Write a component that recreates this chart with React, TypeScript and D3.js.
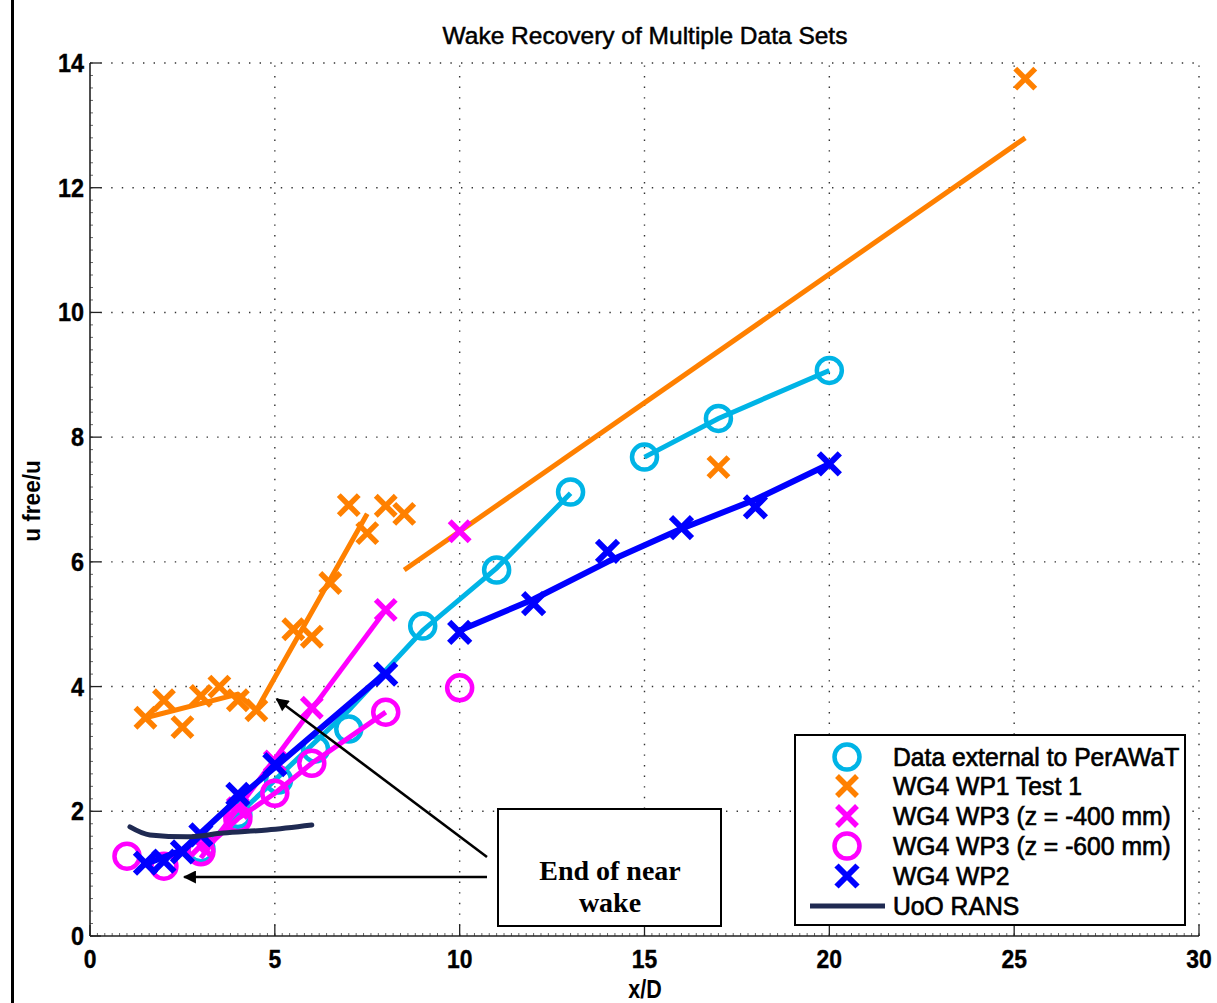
import React from "react";
import * as d3 from "d3";

const W = 1217;
const H = 1003;

// Axis ticks
const xTicks = [0, 5, 10, 15, 20, 25, 30];
const yTicks = [0, 2, 4, 6, 8, 10, 12, 14];

// Data external to PerAWaT (circles)
const extX = [3, 4, 5.1, 6.1, 7, 9, 11, 13, 15, 17, 20];
const extY = [1.4, 1.95, 2.5, 3.0, 3.32, 4.97, 5.87, 7.12, 7.68, 8.3, 9.07];
const extTrendAX = [3, 5, 7, 9, 11, 13];
const extTrendAY = [1.38, 2.5, 3.62, 4.9, 5.9, 7.1];
const extTrendBX = [15, 17, 20];
const extTrendBY = [7.68, 8.3, 9.07];

// WG4 WP1 Test 1 (crosses)
const wp1X = [1.5, 2, 2.5, 3, 3.5, 4, 4.5, 5.5, 6, 6.5, 7, 7.5, 8, 8.5, 17, 25.3];
const wp1Y = [3.5, 3.78, 3.35, 3.85, 4.0, 3.78, 3.62, 4.92, 4.8, 5.66, 6.91, 6.46, 6.9, 6.77, 7.52, 13.75];
const wp1TrendAX = [1.5, 4.0, 4.5, 7.5];
const wp1TrendAY = [3.5, 3.88, 3.62, 6.77];
const wp1TrendBX = [8.5, 25.3];
const wp1TrendBY = [5.87, 12.8];

// WG4 WP3 (z = -400 mm) (crosses)
const wp3aX = [3, 4, 5, 6, 8, 10];
const wp3aY = [1.45, 2.05, 2.8, 3.66, 5.23, 6.49];
const wp3aTrendX = [3, 8];
const wp3aTrendY = [1.25, 5.23];

// WG4 WP3 (z = -600 mm) (circles)
const wp3bX = [1, 2, 3, 4, 5, 6, 8, 10];
const wp3bY = [1.28, 1.12, 1.35, 1.88, 2.29, 2.77, 3.59, 3.98];
const wp3bTrendX = [3, 4, 5, 6, 8];
const wp3bTrendY = [1.35, 1.88, 2.29, 2.77, 3.59];

// WG4 WP2 (crosses)
const wp2X = [1.5, 2, 2.5, 3, 4, 5, 8, 10, 12, 14, 16, 18, 20];
const wp2Y = [1.17, 1.2, 1.35, 1.62, 2.27, 2.75, 4.2, 4.87, 5.33, 6.17, 6.55, 6.88, 7.57];
const wp2TrendAX = [1.4, 2.5, 4, 8];
const wp2TrendAY = [1.13, 1.38, 2.2, 4.22];
const wp2TrendBX = [10, 12, 14, 16, 18, 20];
const wp2TrendBY = [4.9, 5.4, 6.0, 6.53, 7.0, 7.57];

// UoO RANS (line)
const ransX = [1.08, 1.62, 2.63, 3.6, 4.79, 6.0];
const ransY = [1.75, 1.62, 1.59, 1.65, 1.7, 1.78];

const legendLabels = [
  "Data external to PerAWaT",
  "WG4 WP1 Test 1",
  "WG4 WP3 (z = -400 mm)",
  "WG4 WP3 (z = -600 mm)",
  "WG4 WP2",
  "UoO RANS",
];

const C_EXT = "#00b4e6";
const C_WP1 = "#ff8000";
const C_MAG = "#ff00ff";
const C_BLUE = "#0000ff";
const C_RANS = "#1f2a52";

const x = d3.scaleLinear().domain([0, 30]).range([90, 1199]);
const y = d3.scaleLinear().domain([0, 14]).range([936, 63]);

const zip = (xs: number[], ys: number[]) => xs.map((v, i) => [v, ys[i]] as [number, number]);
const line = d3
  .line<[number, number]>()
  .x((d) => x(d[0]))
  .y((d) => y(d[1]));
const smooth = d3
  .line<[number, number]>()
  .x((d) => x(d[0]))
  .y((d) => y(d[1]))
  .curve(d3.curveMonotoneX);

function Cross({ cx, cy, color, r = 10, sw = 5.5 }: any) {
  return (
    <path
      d={`M${cx - r},${cy - r}L${cx + r},${cy + r}M${cx - r},${cy + r}L${cx + r},${cy - r}`}
      stroke={color}
      strokeWidth={sw}
      fill="none"
    />
  );
}

function Ring({ cx, cy, color }: any) {
  return <circle cx={cx} cy={cy} r={12.5} stroke={color} strokeWidth={4.5} fill="none" />;
}

function SText({ x: tx, y: ty, sx = 1, anchor = "middle", size, weight = "normal", family = "Liberation Sans, Arial, sans-serif", rotate = 0, heavy = 0, children }: any) {
  return (
    <text
      transform={`translate(${tx},${ty}) rotate(${rotate}) scale(${sx},1)`}
      textAnchor={anchor}
      fontSize={size}
      fontWeight={weight}
      fontFamily={family}
      fill="#000"
      stroke={heavy ? "#000" : "none"}
      strokeWidth={heavy}
    >
      {children}
    </text>
  );
}

export default function App() {
  const minorX = d3.range(0, 30.001, 0.2);
  const minorY = d3.range(0, 14.001, 0.2);
  const gridStyle = { stroke: "#333", strokeWidth: 1.4, strokeDasharray: "1.4 9.2" };

  const legendRowY = [757, 786, 816, 846, 876, 906];
  const mx = 847;

  return (
    <svg
      width={W}
      height={H}
      viewBox={`0 0 ${W} ${H}`}
      style={{ position: "absolute", left: 0, top: 0, background: "#fff" }}
    >
      <rect x={0} y={0} width={W} height={H} fill="#fff" />
      {/* page rule */}
      <rect x={11} y={0} width={3} height={H} fill="#000" />

      {/* grid */}
      {xTicks.slice(1).map((t) => (
        <line key={"gx" + t} x1={x(t)} x2={x(t)} y1={y(0)} y2={y(14)} {...gridStyle} />
      ))}
      {yTicks.slice(1).map((t) => (
        <line key={"gy" + t} x1={x(0)} x2={x(30)} y1={y(t)} y2={y(t)} {...gridStyle} />
      ))}

      {/* minor ticks */}
      {minorX.map((t, i) => (
        <line key={"mx" + i} x1={x(t)} x2={x(t)} y1={y(0)} y2={y(0) - 3} stroke="#666" strokeWidth={1} />
      ))}
      {minorY.map((t, i) => (
        <line key={"my" + i} x1={x(0)} x2={x(0) + 3} y1={y(t)} y2={y(t)} stroke="#666" strokeWidth={1} />
      ))}

      {/* axes */}
      <line x1={x(0)} x2={x(0)} y1={y(0)} y2={y(14)} stroke="#222" strokeWidth={1.6} />
      <line x1={x(0)} x2={x(30)} y1={y(0)} y2={y(0)} stroke="#222" strokeWidth={1.6} />
      {xTicks.map((t) => (
        <line key={"tx" + t} x1={x(t)} x2={x(t)} y1={y(0)} y2={y(0) - 11} stroke="#222" strokeWidth={1.3} />
      ))}
      {yTicks.map((t) => (
        <line key={"ty" + t} x1={x(0)} x2={x(0) + 11} y1={y(t)} y2={y(t)} stroke="#222" strokeWidth={1.3} />
      ))}
      {xTicks.map((t) => (
        <SText key={"lx" + t} x={x(t)} y={968} size={26} weight="bold" sx={0.88} heavy={0.4}>
          {t}
        </SText>
      ))}
      {yTicks.map((t) => (
        <SText key={"ly" + t} x={84} y={y(t) + 9} size={26} weight="bold" sx={0.9} anchor="end" heavy={0.4}>
          {t}
        </SText>
      ))}

      {/* titles */}
      <SText x={645} y={44} size={24.5} heavy={0.5}>
        Wake Recovery of Multiple Data Sets
      </SText>
      <SText x={645} y={998} size={25} weight="bold" sx={0.86}>
        x/D
      </SText>
      <SText x={40} y={501} size={24} weight="bold" sx={0.94} rotate={-90}>
        u free/u
      </SText>

      {/* Data external to PerAWaT */}
      <path d={line(zip(extTrendAX, extTrendAY)) || ""} stroke={C_EXT} strokeWidth={5} fill="none" />
      <path d={line(zip(extTrendBX, extTrendBY)) || ""} stroke={C_EXT} strokeWidth={5} fill="none" />
      {extX.map((v, i) => (
        <Ring key={"e" + i} cx={x(v)} cy={y(extY[i])} color={C_EXT} />
      ))}

      {/* WG4 WP1 Test 1 */}
      <path d={line(zip(wp1TrendAX, wp1TrendAY)) || ""} stroke={C_WP1} strokeWidth={5} fill="none" strokeLinejoin="round" />
      <path d={line(zip(wp1TrendBX, wp1TrendBY)) || ""} stroke={C_WP1} strokeWidth={5} fill="none" />
      {wp1X.map((v, i) => (
        <Cross key={"o" + i} cx={x(v)} cy={y(wp1Y[i])} color={C_WP1} />
      ))}

      {/* WG4 WP3 z=-400 */}
      <path d={line(zip(wp3aTrendX, wp3aTrendY)) || ""} stroke={C_MAG} strokeWidth={5} fill="none" />
      {wp3aX.map((v, i) => (
        <Cross key={"m" + i} cx={x(v)} cy={y(wp3aY[i])} color={C_MAG} />
      ))}

      {/* WG4 WP3 z=-600 */}
      <path d={line(zip(wp3bTrendX, wp3bTrendY)) || ""} stroke={C_MAG} strokeWidth={5} fill="none" />
      {wp3bX.map((v, i) => (
        <Ring key={"mc" + i} cx={x(v)} cy={y(wp3bY[i])} color={C_MAG} />
      ))}

      {/* WG4 WP2 */}
      <path d={line(zip(wp2TrendAX, wp2TrendAY)) || ""} stroke={C_BLUE} strokeWidth={6} fill="none" strokeLinejoin="round" />
      <path d={line(zip(wp2TrendBX, wp2TrendBY)) || ""} stroke={C_BLUE} strokeWidth={6} fill="none" strokeLinejoin="round" />
      {wp2X.map((v, i) => (
        <Cross key={"b" + i} cx={x(v)} cy={y(wp2Y[i])} color={C_BLUE} r={10.5} sw={6} />
      ))}

      {/* UoO RANS */}
      <path d={smooth(zip(ransX, ransY)) || ""} stroke={C_RANS} strokeWidth={5} fill="none" strokeLinecap="round" />

      {/* annotation */}
      <defs>
        <marker id="ah" viewBox="0 0 10 10" refX="9" refY="5" markerWidth="6" markerHeight="5" orient="auto" markerUnits="strokeWidth">
          <path d="M0,0L10,5L0,10z" fill="#000" />
        </marker>
      </defs>
      <line x1={487} y1={857} x2={x(5.05)} y2={y(3.8)} stroke="#000" strokeWidth={2.6} markerEnd="url(#ah)" />
      <line x1={487} y1={877} x2={x(2.55)} y2={877} stroke="#000" strokeWidth={2.6} markerEnd="url(#ah)" />
      <rect x={498} y={809} width={223} height={117} fill="#fff" stroke="#000" strokeWidth={2} />
      <SText x={610} y={880} size={28} weight="bold" family="Liberation Serif, Times New Roman, serif">
        End of near
      </SText>
      <SText x={610} y={912} size={28} weight="bold" family="Liberation Serif, Times New Roman, serif">
        wake
      </SText>

      {/* legend */}
      <rect x={795} y={735} width={390} height={190} fill="#fff" stroke="#000" strokeWidth={2} />
      <Ring cx={mx} cy={legendRowY[0]} color={C_EXT} />
      <Cross cx={mx} cy={legendRowY[1]} color={C_WP1} />
      <Cross cx={mx} cy={legendRowY[2]} color={C_MAG} />
      <Ring cx={mx} cy={legendRowY[3]} color={C_MAG} />
      <Cross cx={mx} cy={legendRowY[4]} color={C_BLUE} r={10.5} sw={6} />
      <line x1={810} x2={885} y1={legendRowY[5]} y2={legendRowY[5]} stroke={C_RANS} strokeWidth={5} />
      {legendLabels.map((t, i) => (
        <SText key={"lg" + i} x={893} y={legendRowY[i] + 9} size={26} sx={0.95} anchor="start" heavy={0.7}>
          {t}
        </SText>
      ))}
    </svg>
  );
}
